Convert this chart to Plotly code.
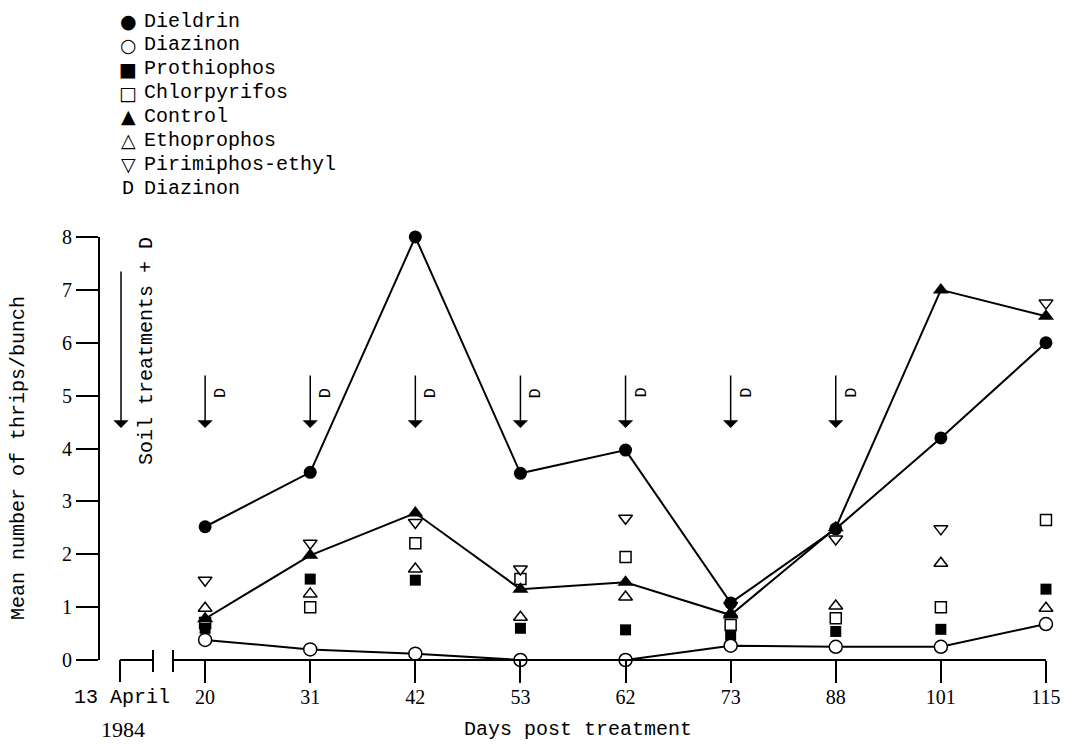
import plotly.graph_objects as go

# ---------------- data ----------------
days = [20, 31, 42, 53, 62, 73, 88, 101, 115]
dieldrin = [2.52, 3.55, 8.0, 3.53, 3.97, 1.08, 2.48, 4.2, 6.0]
diazinon = [0.38, 0.2, 0.12, 0.0, 0.0, 0.27, 0.25, 0.25, 0.68]
prothiophos = [0.6, 1.53, 1.51, 0.6, 0.57, 0.47, 0.54, 0.58, 1.34]
chlorpyrifos = [0.7, 1.0, 2.21, 1.53, 1.95, 0.66, 0.79, 1.0, 2.65]
control = [0.78, 1.98, 2.78, 1.34, 1.47, 0.85, 2.5, 7.0, 6.5]
ethoprophos = [0.98, 1.25, 1.72, 0.81, 1.19, 0.88, 1.02, 1.83, 0.98]
pirimiphos = [1.51, 2.21, 2.6, 1.72, 2.68, 1.03, 2.29, 2.48, 6.75]
spray_days = [20, 31, 42, 53, 62, 73, 88]
y_ticks = [0, 1, 2, 3, 4, 5, 6, 7, 8]

legend_items = [
    ("●", "Dieldrin"),
    ("○", "Diazinon"),
    ("■", "Prothiophos"),
    ("□", "Chlorpyrifos"),
    ("▲", "Control"),
    ("△", "Ethoprophos"),
    ("▽", "Pirimiphos-ethyl"),
    ("D", "Diazinon"),
]

# ---------------- layout helpers ----------------
W, H = 1075, 745
OFF = 8                                # page body margin
PL, PR, PT, PB = 100, 1067, 237, 660   # plot area in window pixels
XR = [-1.0, 8.2]
YR = [0, 8]
MONO = "Liberation Mono"
SERIF = "Liberation Serif"
SYM = "DejaVu Sans"

idx = list(range(len(days)))
pos = {d: i for i, d in enumerate(days)}
xppu = (PR - PL) / (XR[1] - XR[0])
yppu = (PB - PT) / (YR[1] - YR[0])


def xd(px):
    return XR[0] + (px - PL) / xppu


def yd(py):
    return YR[0] + (PB - py) / yppu


def xp(px):
    return (px - OFF) / W


def yp(py):
    return 1 - (py - OFF) / H


dom = 1.0 / (PB - PT)  # y-domain units per pixel

fig = go.Figure()


def add(yvals, symbol, fill, size, mode="markers", lw=1.5):
    fig.add_trace(go.Scatter(
        x=idx, y=yvals, mode=mode, cliponaxis=False, showlegend=False,
        line=dict(color="black", width=2),
        marker=dict(symbol=symbol, size=size, color=fill,
                    line=dict(color="black", width=lw)),
    ))


add(chlorpyrifos, "square", "white", 11)
add(ethoprophos, "triangle-up", "white", 12)
add(pirimiphos, "triangle-down", "white", 12)
add(prothiophos, "square", "black", 11, lw=0)
add(dieldrin, "circle", "black", 13, mode="lines+markers", lw=0)
add(control, "triangle-up", "black", 14, mode="lines+markers", lw=0)
add(diazinon, "circle", "white", 13, mode="lines+markers", lw=1.5)

shapes = []
bx0, bt1, bt2 = xd(120), xd(153), xd(173)
for s in [
    dict(x0=bx0, x1=bx0, y0=0, y1=-22 * dom),
    dict(x0=bx0, x1=bt1, y0=0, y1=0),
    dict(x0=bt1, x1=bt1, y0=10 * dom, y1=-12 * dom),
    dict(x0=bt2, x1=bt2, y0=10 * dom, y1=-12 * dom),
    dict(x0=bt2, x1=idx[-1], y0=0, y1=0),
]:
    shapes.append(dict(type="line", xref="x", yref="y domain",
                       line=dict(color="black", width=2), **s))

ann = []


def txt(x, y, text, font, angle=0, xref="paper", yref="paper", xanchor="center"):
    ann.append(dict(x=x, y=y, xref=xref, yref=yref, text=text, textangle=angle,
                    showarrow=False, xanchor=xanchor, yanchor="middle", font=font))


# legend
rows = [21, 45, 69, 93, 116, 140, 164, 188]
for (g, name), r in zip(legend_items, rows):
    gfont = dict(family=SYM if g != "D" else MONO, size=19 if g != "D" else 20,
                 color="black")
    txt(xp(128), yp(r), g, gfont)
    txt(xp(142), yp(r), name, dict(family=MONO, size=20, color="black"),
        xanchor="left")

# soil treatment arrow
ann.append(dict(x=xd(121), y=yd(428), ax=xd(121), ay=yd(270), xref="x", yref="y",
                axref="x", ayref="y", text="", showarrow=True, arrowhead=1,
                arrowsize=1.7, arrowwidth=1.5, arrowcolor="black"))
txt(xd(146), yd(351), "Soil treatments + D",
    dict(family=MONO, size=20, color="black"), angle=-90, xref="x", yref="y")
# spray arrows
for d in spray_days:
    i = pos[d]
    ann.append(dict(x=i, y=yd(428), ax=i, ay=yd(374), xref="x", yref="y",
                    axref="x", ayref="y", text="", showarrow=True, arrowhead=1,
                    arrowsize=1.7, arrowwidth=1.5, arrowcolor="black"))
    txt(i + 15 / xppu, yd(393), "D", dict(family=MONO, size=17, color="black"),
        angle=-90, xref="x", yref="y")

# axis texts
txt(xp(18), yp(458), "Mean number of thrips/bunch",
    dict(family=MONO, size=20, color="black"), angle=-90)
txt(xp(122), yp(697), "13 April", dict(family=MONO, size=20, color="black"))
txt(xp(123), yp(729), "1984", dict(family=SERIF, size=22, color="black"))
txt(xp(578), yp(729), "Days post treatment", dict(family=MONO, size=20, color="black"))

fig.update_layout(
    width=W, height=H, margin=dict(l=0, r=0, t=0, b=0),
    paper_bgcolor="white", plot_bgcolor="white", showlegend=False,
    shapes=shapes, annotations=ann,
    xaxis=dict(domain=[(PL - OFF) / W, (PR - OFF) / W], range=XR, showline=False,
               showgrid=False, zeroline=False, ticks="outside", ticklen=22,
               tickwidth=2, tickcolor="black", tickvals=idx,
               ticktext=[str(d) for d in days], ticklabelstandoff=-3,
               tickfont=dict(family=SERIF, size=20, color="black"),
               automargin=False),
    yaxis=dict(domain=[1 - (PB - OFF) / H, 1 - (PT - OFF) / H], range=YR,
               showline=True, linecolor="black", linewidth=2, showgrid=False,
               zeroline=False, ticks="outside", ticklen=22, tickwidth=2,
               tickcolor="black", tickvals=y_ticks,
               tickfont=dict(family=SERIF, size=20, color="black"),
               automargin=False),
)

fig.write_html("out.html")
